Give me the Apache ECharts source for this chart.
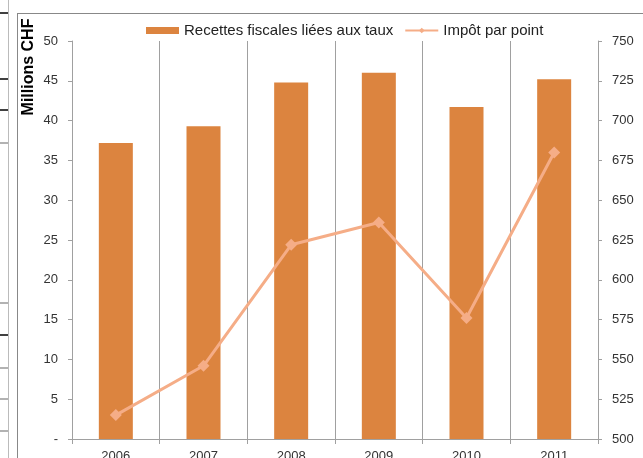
<!DOCTYPE html>
<html><head><meta charset="utf-8">
<script src="https://cdn.jsdelivr.net/npm/echarts@6/dist/echarts.min.js"></script>
<style>html,body{margin:0;padding:0;background:#fff}#c{width:643px;height:458px}</style>
</head><body><div id="c"></div>
<script>
const categories = ['2006','2007','2008','2009','2010','2011'];
const recettes = [37.2, 39.3, 44.8, 46.0, 41.7, 45.2];
const impot = [515, 546, 622, 636, 576, 680];
const leftTicks = ['-', '5', '10', '15', '20', '25', '30', '35', '40', '45', '50'];

const chart = echarts.init(document.getElementById('c'));
const font = 'Liberation Sans, Arial, sans-serif';
chart.setOption({
  animation: false,
  textStyle: { fontFamily: font },
  grid: { left: 72, right: 45, top: 41, bottom: 19, containLabel: false, outerBoundsMode: 'none' },
  legend: {
    top: 18, left: 141, itemGap: 11, itemWidth: 33, itemHeight: 7,
    textStyle: { fontSize: 15, color: '#222', fontFamily: font },
    data: [
      { name: 'Recettes fiscales liées aux taux', icon: 'rect' },
      { name: 'Impôt par point' }
    ]
  },
  xAxis: {
    type: 'category', data: categories,
    axisLine: { lineStyle: { color: '#a0a0a0', width: 1 } },
    axisTick: { show: true, alignWithLabel: false, length: 5, lineStyle: { color: '#a0a0a0' } },
    axisLabel: { fontSize: 13, color: '#333', margin: 11 },
    splitLine: { show: true, lineStyle: { color: '#a0a0a0', width: 1 } }
  },
  yAxis: [
    {
      type: 'value', min: 0, max: 50, interval: 5,
      axisLine: { show: true, lineStyle: { color: '#a0a0a0' } },
      axisTick: { show: true, length: 4, lineStyle: { color: '#a0a0a0' } },
      axisLabel: { fontSize: 13, color: '#333', margin: 14,
        formatter: v => leftTicks[Math.round(v / 5)] },
      splitLine: { show: false }
    },
    {
      type: 'value', min: 500, max: 750, interval: 25, position: 'right',
      axisLine: { show: true, lineStyle: { color: '#a0a0a0' } },
      axisTick: { show: true, length: 4, lineStyle: { color: '#a0a0a0' } },
      axisLabel: { fontSize: 13, color: '#333', margin: 14 },
      splitLine: { show: false }
    }
  ],
  series: [
    {
      name: 'Recettes fiscales liées aux taux', type: 'bar', data: recettes,
      barWidth: 34, itemStyle: { color: '#DC843F' }, yAxisIndex: 0
    },
    {
      name: 'Impôt par point', type: 'line', data: impot, yAxisIndex: 1,
      symbol: 'diamond', symbolSize: 12,
      lineStyle: { color: '#F5AD87', width: 3 },
      itemStyle: { color: '#F5AD87' }
    }
  ],
  graphic: [
    { type: 'text', x: 29, y: 67, rotation: Math.PI / 2,
      style: { text: 'Millions CHF', font: 'bold 16px ' + font, fill: '#000',
        textAlign: 'center', textVerticalAlign: 'middle' } },
    { type: 'line', shape: { x1: 17.5, y1: 13, x2: 17.5, y2: 458 }, style: { stroke: '#888', lineWidth: 1 } },
    { type: 'line', shape: { x1: 8.5, y1: 0, x2: 8.5, y2: 458 }, style: { stroke: '#bbb', lineWidth: 1 } },
    { type: 'line', shape: { x1: 17, y1: 13.5, x2: 643, y2: 13.5 }, style: { stroke: '#888', lineWidth: 1 } },
    { type: 'line', shape: { x1: 0, y1: 13, x2: 8, y2: 13 }, style: { stroke: '#000', lineWidth: 1.5 } },
    { type: 'line', shape: { x1: 0, y1: 79, x2: 8, y2: 79 }, style: { stroke: '#000', lineWidth: 1.5 } },
    { type: 'line', shape: { x1: 0, y1: 110, x2: 8, y2: 110 }, style: { stroke: '#000', lineWidth: 1.5 } },
    { type: 'line', shape: { x1: 0, y1: 335, x2: 8, y2: 335 }, style: { stroke: '#000', lineWidth: 1.5 } },
    { type: 'line', shape: { x1: 0, y1: 143, x2: 8, y2: 143 }, style: { stroke: '#999', lineWidth: 1.5 } },
    { type: 'line', shape: { x1: 0, y1: 303, x2: 8, y2: 303 }, style: { stroke: '#999', lineWidth: 1.5 } },
    { type: 'line', shape: { x1: 0, y1: 368, x2: 8, y2: 368 }, style: { stroke: '#999', lineWidth: 1.5 } },
    { type: 'line', shape: { x1: 0, y1: 399, x2: 8, y2: 399 }, style: { stroke: '#999', lineWidth: 1.5 } },
    { type: 'line', shape: { x1: 0, y1: 431, x2: 8, y2: 431 }, style: { stroke: '#999', lineWidth: 1.5 } }
  ]
});
</script></body></html>
